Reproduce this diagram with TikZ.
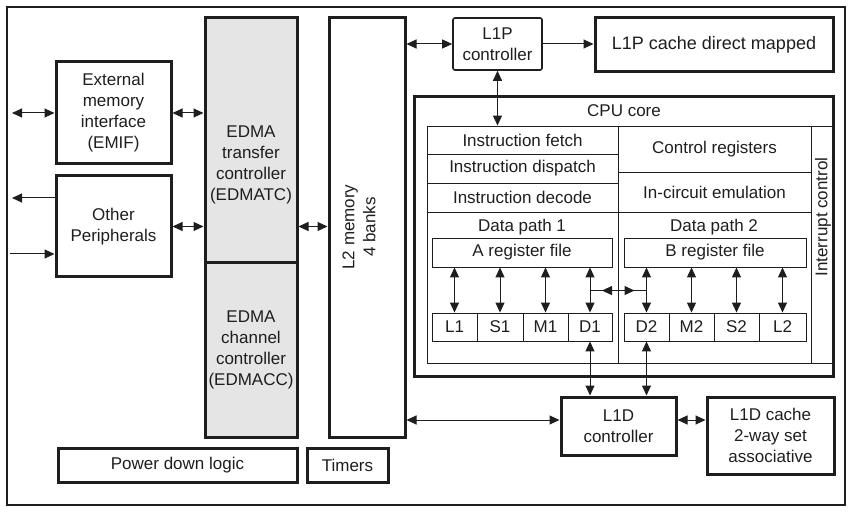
\documentclass[tikz,border=0pt]{standalone}
\usepackage{fontspec}
\setmainfont{Liberation Sans}
\usetikzlibrary{arrows.meta,calc}
\definecolor{edgray}{RGB}{229,229,229}
\definecolor{ink}{RGB}{30,30,30}
\begin{document}
\begin{tikzpicture}[x=1pt,y=-1pt,
  font=\fontsize{17}{21}\selectfont,
  every node/.style={text=ink},
  thickbox/.style={draw=ink, line width=3pt, inner sep=0pt, align=center},
  cell/.style={draw=ink, line width=0.9pt, inner sep=0pt, align=center},
  lbl/.style={inner sep=0pt, align=center},
  ar/.style={draw=ink, line width=1pt, {Triangle[length=10pt,width=9pt]}-{Triangle[length=10pt,width=9pt]}},
  arr/.style={draw=ink, line width=1pt, -{Triangle[length=10pt,width=9pt]}},
  arl/.style={draw=ink, line width=1pt, {Triangle[length=10pt,width=9pt]}-},
  ln/.style={draw=ink, line width=1pt}]
\useasboundingbox (0,0) rectangle (852,513);
% outer frame
\draw[ink, line width=1.1pt] (7,7) rectangle (845,505);

% left blocks
\node[thickbox, minimum width=115pt, minimum height=102pt] (emif) at (113.5,113) {External\\memory\\interface\\(EMIF)};
\node[thickbox, minimum width=115pt, minimum height=101pt] (oth) at (113.5,226.5) {Other\\Peripherals};
\node[thickbox, fill=edgray, minimum width=92pt, minimum height=245pt] (edmatc) at (251,140.5) {};
\node[lbl] (edmatct) at (251,165) {EDMA\\transfer\\controller\\(EDMATC)};
\node[thickbox, fill=edgray, minimum width=92pt, minimum height=174pt] (edmacc) at (251,350) {EDMA\\channel\\controller\\(EDMACC)};
\node[thickbox, minimum width=76pt, minimum height=419pt] (l2) at (367,227.5) {};
\node[lbl, rotate=90] (l2t) at (359,227) {L2 memory\\4 banks};
\node[thickbox, minimum width=239pt, minimum height=34pt] (pdl) at (177.5,465) {Power down logic};
\node[thickbox, minimum width=81pt, minimum height=34pt] (tim) at (347.5,465) {Timers};

% L1P
\node[draw=ink, line width=1.6pt, rounded corners=2pt, inner sep=0pt, align=center, minimum width=89pt, minimum height=52pt] (l1pc) at (497.5,44) {L1P\\controller};
\node[thickbox, minimum width=238pt, minimum height=54pt, font=\fontsize{18}{21}\selectfont] (l1pcache) at (714,45) {L1P cache direct mapped};

% CPU core
\node[thickbox, minimum width=419pt, minimum height=279pt] (cpu) at (623.5,236.5) {};
\node[lbl] (cput) at (624,111) {CPU core};
\node[cell, minimum width=191pt, minimum height=28pt] (ifetch) at (522.5,140) {Instruction fetch};
\node[cell, minimum width=191pt, minimum height=29pt] (idisp) at (522.5,168.5) {Instruction dispatch};
\node[cell, minimum width=191pt, minimum height=29pt] (idec) at (522.5,197.5) {Instruction decode};
\node[cell, minimum width=193pt, minimum height=46pt] (ctrl) at (714.5,149) {Control registers};
\node[cell, minimum width=193pt, minimum height=40pt] (ice) at (714.5,192) {In-circuit emulation};
\node[cell, minimum width=191pt, minimum height=151pt] (dp1) at (522.5,287.5) {};
\node[cell, minimum width=193pt, minimum height=151pt] (dp2) at (714.5,287.5) {};
\node[cell, minimum width=22pt, minimum height=237pt] (intc) at (822,244.5) {};
\node[lbl, rotate=90] (intct) at (823,217) {Interrupt control};
\node[lbl] (dp1t) at (522,227) {Data path 1};
\node[lbl] (dp2t) at (714,227) {Data path 2};

\node[cell, minimum width=180pt, minimum height=29pt] (rfa) at (522,252.5) {A register file};
\node[cell, minimum width=182pt, minimum height=29pt] (rfb) at (715,252.5) {B register file};

\node[cell, minimum width=45pt, minimum height=28pt] (L1) at (454.5,327) {L1};
\node[cell, minimum width=46pt, minimum height=28pt] (S1) at (500,327) {S1};
\node[cell, minimum width=45pt, minimum height=28pt] (M1) at (545.5,327) {M1};
\node[cell, minimum width=44pt, minimum height=28pt] (D1) at (590,327) {D1};
\node[cell, minimum width=45pt, minimum height=28pt] (D2) at (646.5,327) {D2};
\node[cell, minimum width=45pt, minimum height=28pt] (M2) at (691.5,327) {M2};
\node[cell, minimum width=45pt, minimum height=28pt] (S2) at (736.5,327) {S2};
\node[cell, minimum width=47pt, minimum height=28pt] (L2u) at (782.5,327) {L2};

% L1D
\node[thickbox, minimum width=115pt, minimum height=58pt] (l1dc) at (618.5,426) {L1D\\controller};
\node[thickbox, minimum width=127pt, minimum height=77pt] (l1dcache) at (770.5,435.5) {L1D cache\\2-way set\\associative};

% connectors: register files to units
\foreach \u in {L1,S1,M1,D1}{\draw[ar] (rfa.south -| \u.north) -- (\u.north);}
\foreach \u in {D2,M2,S2,L2u}{\draw[ar] (rfb.south -| \u.north) -- (\u.north);}
\coordinate (xa) at ($(D1.north)+(0,-22)$);
\coordinate (xb) at ($(D2.north)+(0,-22)$);
\draw[ln] (xa) -- (xb);
\draw[ar] ($(xa)+(12,0)$) -- ($(xb)+(-12,0)$);

% units to L1D
\draw[ar] (D1.south) -- (D1.south |- l1dc.north);
\draw[ar] (D2.south) -- (D2.south |- l1dc.north);

% L1P
\draw[ar] (l1pc.west) -- (l1pc.west -| l2.east);
\draw[arr] (l1pc.east) -- (l1pc.east -| l1pcache.west);
\draw[ar] (l1pc.south) -- (l1pc.south |- ifetch.north);

% L1D horizontals
\coordinate (l1dy) at ($(l1dc.west)+(0,-6)$);
\draw[ar] (l1dy) -- (l1dy -| l2.east);
\draw[ar] (l1dy -| l1dc.east) -- (l1dy -| l1dcache.west);

% left side
\draw[ar] (emif.east) -- (emif.east -| edmatc.west);
\draw[ar] (oth.east) -- (oth.east -| edmatc.west);
\draw[ar] (oth.east -| edmatc.east) -- (oth.east -| l2.west);
\coordinate (e1) at (12,113);
\draw[ar] (e1) -- (e1 -| emif.west);
\coordinate (o1) at (12,198);
\draw[arl] (o1) -- (o1 -| oth.west);
\coordinate (o2) at (10,254);
\draw[arr] (o2) -- (o2 -| oth.west);
\end{tikzpicture}
\end{document}
